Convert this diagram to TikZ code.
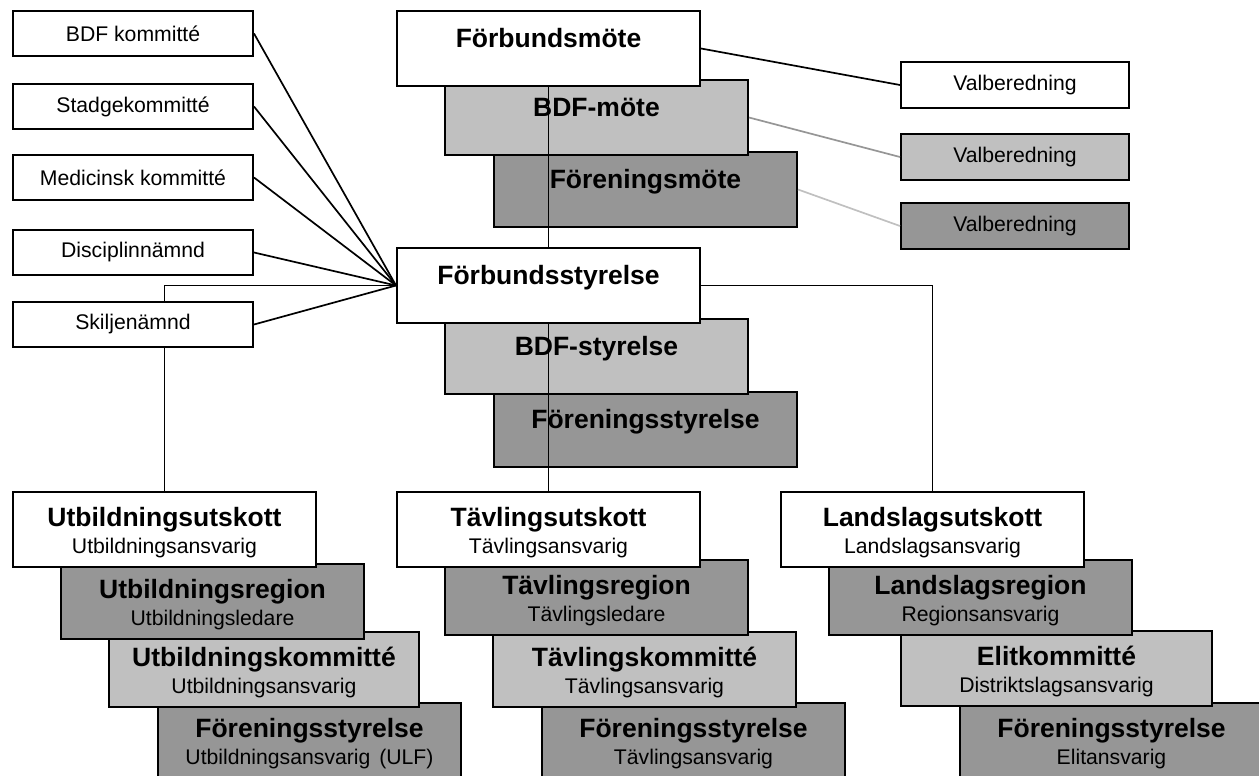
\documentclass[tikz,border=0pt]{standalone}
\usepackage{fontspec}
\setmainfont{Liberation Sans}
\usepackage{tikz}

\newcommand{\ansvar}[1]{{\mdseries\fontsize{10.6}{13.5}\selectfont #1}}

\begin{document}
\begin{tikzpicture}[x=0.5pt,y=-0.5pt,
  box/.style={draw, line width=1pt, inner sep=0pt, anchor=north west, align=center,
    text width=151.5pt, text height=18.25pt, text depth=19.25pt,
    font=\fontsize{13.25}{13.5}\selectfont\bfseries},
  twoline/.style={box, text height=17pt, text depth=20.5pt},
  smallbox/.style={draw, line width=1pt, fill=white, inner sep=0pt, anchor=north west,
    minimum width=120pt, minimum height=22.5pt, font=\fontsize{10.6}{12.7}\selectfont},
  valbox/.style={smallbox, minimum width=114pt, minimum height=23pt},
  link/.style={line width=0.85pt}]
\definecolor{boxLight}{RGB}{192,192,192}
\definecolor{boxDark}{RGB}{150,150,150}
\definecolor{linkMid}{RGB}{150,150,150}
\definecolor{linkLight}{RGB}{192,192,192}
\useasboundingbox (0,0) rectangle (1259,776);
\clip (0,0) rectangle (1259,776);
\node[box, fill=boxDark] (fom) at (493,151) {Föreningsmöte};
\node[box, fill=boxLight] (bm) at (444,79) {BDF-möte};
\node[box, fill=white] (fm) at (396,10) {Förbundsmöte};
\node[box, fill=boxDark] (fos) at (493,391) {Föreningsstyrelse};
\node[box, fill=boxLight] (bs) at (444,318) {BDF-styrelse};
\node[box, fill=white] (fs) at (396,247) {Förbundsstyrelse};
\node[twoline, fill=boxDark] (uf) at (157,702) {Föreningsstyrelse\\\ansvar{Utbildningsansvarig (ULF)}};
\node[twoline, fill=boxLight, text width=155pt] (uk) at (108,631) {Utbildningskommitté\\\ansvar{Utbildningsansvarig}};
\node[twoline, fill=boxDark] (ur) at (60,563) {Utbildningsregion\\\ansvar{Utbildningsledare}};
\node[twoline, fill=white] (uu) at (12,491) {Utbildningsutskott\\\ansvar{Utbildningsansvarig}};
\node[twoline, fill=boxDark] (tf) at (541,702) {Föreningsstyrelse\\\ansvar{Tävlingsansvarig}};
\node[twoline, fill=boxLight] (tk) at (492,631) {Tävlingskommitté\\\ansvar{Tävlingsansvarig}};
\node[twoline, fill=boxDark] (tr) at (444,559) {Tävlingsregion\\\ansvar{Tävlingsledare}};
\node[twoline, fill=white] (tu) at (396,491) {Tävlingsutskott\\\ansvar{Tävlingsansvarig}};
\node[twoline, fill=boxDark] (lf) at (959,702) {Föreningsstyrelse\\\ansvar{Elitansvarig}};
\node[twoline, fill=boxLight, text width=155.5pt] (lk) at (900,630) {Elitkommitté\\\ansvar{Distriktslagsansvarig}};
\node[twoline, fill=boxDark] (lr) at (828,559) {Landslagsregion\\\ansvar{Regionsansvarig}};
\node[twoline, fill=white] (lu) at (780,491) {Landslagsutskott\\\ansvar{Landslagsansvarig}};
\draw[link] (fm.south) -- (fs.north);
\draw[link] (fs.south) -- (tu.north);
\draw[link] (fs.east) -| (lu.north);
\draw[link] (fs.west) -| (uu.north);
\node[smallbox] (bdfk) at (12,10) {BDF kommitté};
\node[smallbox] (stadk) at (12,83) {Stadgekommitté};
\node[smallbox] (medk) at (12,154) {Medicinsk kommitté};
\node[smallbox] (disc) at (12,229) {Disciplinnämnd};
\node[smallbox] (skil) at (12,301) {Skiljenämnd};
\foreach \k in {bdfk,stadk,medk,disc,skil}
  \draw[link] (\k.east) -- (fs.west);
\node[valbox] (vb1) at (900,61) {Valberedning};
\node[valbox, fill=boxLight] (vb2) at (900,133) {Valberedning};
\node[valbox, fill=boxDark] (vb3) at (900,202) {Valberedning};
\draw[link] (fm.east) -- (vb1.west);
\draw[link, color=linkMid] (bm.east) -- (vb2.west);
\draw[link, color=linkLight] (fom.east) -- (vb3.west);
\end{tikzpicture}
\end{document}
